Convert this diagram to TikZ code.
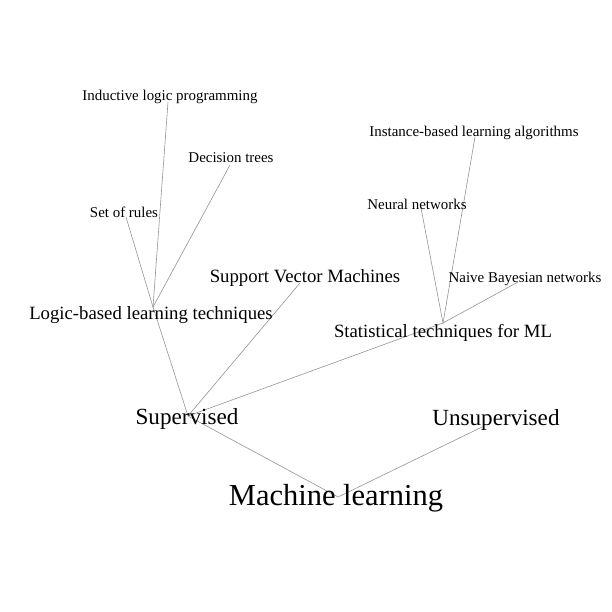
\documentclass[tikz,border=0pt]{standalone}
\usepackage{fontspec}
\setmainfont{Liberation Serif}
\usepackage{tikz}
\tikzset{
  edge/.style={draw=black!42, line width=0.6bp},
  lbl/.style={anchor=base, inner sep=0pt, text=black},
  big/.style={lbl, font=\fontsize{30.6}{32}\selectfont},
  mid/.style={lbl, font=\fontsize{23.2}{25}\selectfont},
  sml/.style={lbl, font=\fontsize{18.8}{20}\selectfont},
  tiny/.style={lbl, font=\fontsize{15}{16}\selectfont}
}

\begin{document}
\begin{tikzpicture}[x=1bp,y=-1bp]
    \useasboundingbox (0,0) rectangle (612,612);
    % vertex points
    \coordinate (ml) at (338,497);
    \coordinate (sup) at (188,416);
    \coordinate (unsup) at (482,427);
    \coordinate (logic) at (153,307);
    \coordinate (stat) at (443,323);
    \coordinate (svm) at (300,283);
    \coordinate (rules) at (126,217);
    \coordinate (dtree) at (230,165);
    \coordinate (ilp) at (168,102);
    \coordinate (nn) at (421,208);
    \coordinate (ibl) at (475,137);
    \coordinate (nbn) at (518,282);
    % edges
    \draw[edge] (sup) -- (ml) -- (unsup);
    \draw[edge] (logic) -- (sup) -- (stat);
    \draw[edge] (sup) -- (svm);
    \draw[edge] (rules) -- (logic) -- (dtree);
    \draw[edge] (logic) -- (ilp);
    \draw[edge] (nn) -- (stat) -- (ibl);
    \draw[edge] (stat) -- (nbn);
    % labels
    \node[big] (ml-l) at (336,505) {Machine learning};
    \node[mid] (sup-l) at (187,424) {Supervised};
    \node[mid] (unsup-l) at (496,425) {Unsupervised};
    \node[sml] (logic-l) at (151,319) {Logic-based learning techniques};
    \node[sml] (stat-l) at (443,337) {Statistical techniques for ML};
    \node[sml] (svm-l) at (305,282) {Support Vector Machines};
    \node[tiny] (rules-l) at (124,217) {Set of rules};
    \node[tiny] (dtree-l) at (231,163) {Decision trees};
    \node[tiny] (ilp-l) at (170,101) {Inductive logic programming};
    \node[tiny] (nn-l) at (417,209) {Neural networks};
    \node[tiny] (ibl-l) at (474,137) {Instance-based learning algorithms};
    \node[tiny] (nbn-l) at (525,282) {Naive Bayesian networks};
\end{tikzpicture}
\end{document}
